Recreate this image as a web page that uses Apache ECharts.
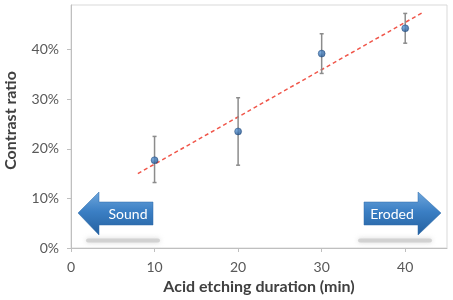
<!DOCTYPE html>
<html>
<head>
<meta charset="utf-8">
<script src="https://cdn.jsdelivr.net/npm/echarts@6/dist/echarts.min.js"></script>
<style>
  html, body { margin: 0; padding: 0; background: #fff; }
  #main { width: 453px; height: 300px; }
</style>
</head>
<body>
<div id="main"></div>
<script>
// data
var durations = [10, 20, 30, 40];
var ratios = [0.177, 0.235, 0.392, 0.443];
var errLow = [0.132, 0.167, 0.352, 0.413];
var errHigh = [0.225, 0.303, 0.432, 0.473];
var trendX = [8, 42];
var trendY = [0.15, 0.474];

var FONT = 'Lato, "Open Sans", sans-serif';

var points = durations.map(function(d, i) { return [d, ratios[i]]; });
var bars = durations.map(function(d, i) { return [d, errLow[i], errHigh[i]]; });
var trend = trendX.map(function(x, i) { return [x, trendY[i]]; });

var blueGrad = function() {
    return new echarts.graphic.LinearGradient(0, 0, 0, 1, [
        {offset: 0, color: '#6ea6dc'},
        {offset: 0.45, color: '#3b7fc4'},
        {offset: 1, color: '#24609f'}
    ]);
};

var arrow = function(pts, label, lx, sx) {
    return [
        // soft shadow under the arrow
        {
            type: 'rect', shape: {x: sx, y: 238.5, width: 74, height: 4, r: 2},
            style: {fill: 'rgba(200,200,200,0.7)', shadowBlur: 5, shadowColor: 'rgba(160,160,160,0.6)'},
            z: 1
        },
        {
            type: 'polygon', shape: {points: pts},
            style: {fill: blueGrad(), stroke: '#2d6aa8', lineWidth: 0.5},
            z: 2
        },
        {
            type: 'text', x: lx, y: 214,
            style: {text: label, fill: '#fff', font: '14px ' + FONT, align: 'center', verticalAlign: 'middle'},
            z: 3
        }
    ];
};

var init_chart = function() {
    var myChart = echarts.init(document.getElementById('main'));
    var option = {
        animation: false,
        grid: {
            left: 71, top: 5, right: 6, bottom: 52, outerBoundsMode: 'none',
            show: true, borderColor: '#d9d9d9', borderWidth: 1
        },
        xAxis: {
            type: 'value', min: 0, max: 45, interval: 10,
            name: 'Acid etching duration (min)', nameLocation: 'middle', nameGap: 31,
            nameTextStyle: {fontFamily: FONT, fontSize: 16, fontWeight: 'bold', color: '#404040'},
            axisLine: {lineStyle: {color: '#bfbfbf'}},
            axisTick: {show: true, length: 4, lineStyle: {color: '#bfbfbf'}},
            axisLabel: {showMaxLabel: false, margin: 12, fontFamily: FONT, fontSize: 14, color: '#595959'},
            splitLine: {show: false}
        },
        yAxis: {
            type: 'value', min: 0, max: 0.49, interval: 0.1,
            name: 'Contrast ratio', nameLocation: 'middle', nameGap: 52,
            nameTextStyle: {fontFamily: FONT, fontSize: 16, fontWeight: 'bold', color: '#404040', padding: [0, 0, 0, 12]},
            axisLine: {show: true, lineStyle: {color: '#bfbfbf'}},
            axisTick: {show: true, length: 4, lineStyle: {color: '#bfbfbf'}},
            axisLabel: {
                showMaxLabel: false, margin: 12, fontFamily: FONT, fontSize: 14, color: '#595959',
                formatter: function(v) { return Math.round(v * 100) + '%'; }
            },
            splitLine: {show: false}
        },
        series: [
            {
                type: 'line', data: trend, symbol: 'none', z: 2,
                lineStyle: {color: '#f0564a', width: 1.5, type: [4, 3]}
            },
            {
                // error bars
                type: 'custom', data: bars, z: 3,
                renderItem: function(params, api) {
                    var lo = api.coord([api.value(0), api.value(1)]);
                    var hi = api.coord([api.value(0), api.value(2)]);
                    var st = {stroke: '#8c8c8c', lineWidth: 1.5};
                    return {
                        type: 'group',
                        children: [
                            {type: 'line', shape: {x1: lo[0], y1: lo[1], x2: hi[0], y2: hi[1]}, style: st},
                            {type: 'line', shape: {x1: lo[0] - 2, y1: lo[1], x2: lo[0] + 2, y2: lo[1]}, style: st},
                            {type: 'line', shape: {x1: hi[0] - 2, y1: hi[1], x2: hi[0] + 2, y2: hi[1]}, style: st}
                        ]
                    };
                }
            },
            {
                type: 'scatter', data: points, symbolSize: 7, z: 4,
                itemStyle: {
                    color: new echarts.graphic.RadialGradient(0.35, 0.35, 0.7, [
                        {offset: 0, color: '#5b97d6'},
                        {offset: 1, color: '#1a4c88'}
                    ]),
                    borderColor: '#173f70', borderWidth: 0.5
                }
            }
        ],
        graphic: [].concat(
            arrow([[78, 213], [99, 192], [99, 202], [153, 202], [153, 225], [99, 225], [99, 235]], 'Sound', 128, 86),
            arrow([[364, 202], [418, 202], [418, 192], [441, 213], [418, 235], [418, 225], [364, 225]], 'Eroded', 392, 358)
        )
    };
    myChart.setOption(option);
};

init_chart();
</script>
</body>
</html>
